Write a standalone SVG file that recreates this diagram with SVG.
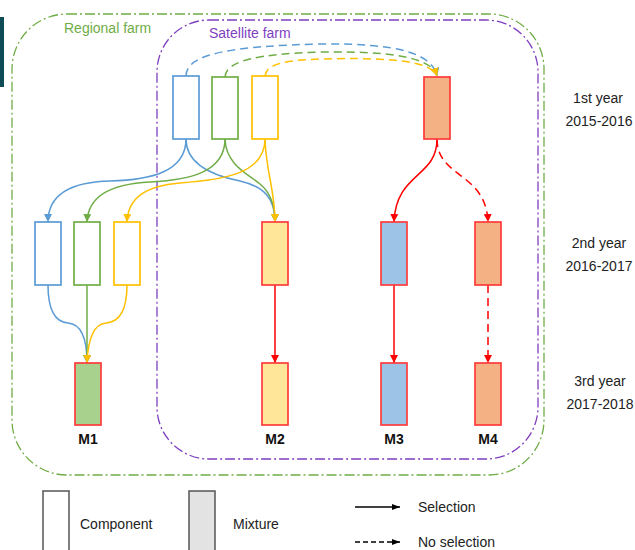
<svg xmlns="http://www.w3.org/2000/svg" width="635" height="550" viewBox="0 0 635 550">
<style>
text{font-family:"Liberation Sans",Arial,sans-serif;font-size:14px;fill:#222}
.lbl{font-weight:bold;text-anchor:middle;fill:#111}
.yr{text-anchor:middle}
.comp{fill:#fff;stroke-width:1.7}
.mix{stroke:#FF3B3B;stroke-width:1.7}
.c{fill:none;stroke-width:1.5}
.b{stroke:#5B9BD5}.g{stroke:#70AD47}.y{stroke:#FFC000}.r{stroke:#FF0000}.k{stroke:#000}
.d{stroke-dasharray:8,5}
.farm{fill:none;stroke-width:1.3;stroke-dasharray:10,3,2,3}
</style>
<defs>
<marker id="ab" markerWidth="8" markerHeight="8" refX="8" refY="4" orient="auto" markerUnits="userSpaceOnUse"><path d="M0,0 L8,4 L0,8 z" fill="#5B9BD5"/></marker>
<marker id="ag" markerWidth="8" markerHeight="8" refX="8" refY="4" orient="auto" markerUnits="userSpaceOnUse"><path d="M0,0 L8,4 L0,8 z" fill="#70AD47"/></marker>
<marker id="ay" markerWidth="8" markerHeight="8" refX="8" refY="4" orient="auto" markerUnits="userSpaceOnUse"><path d="M0,0 L8,4 L0,8 z" fill="#FFC000"/></marker>
<marker id="ar" markerWidth="8" markerHeight="8" refX="8" refY="4" orient="auto" markerUnits="userSpaceOnUse"><path d="M0,0 L8,4 L0,8 z" fill="#FF0000"/></marker>
<marker id="ak" markerWidth="8" markerHeight="8" refX="8" refY="4" orient="auto" markerUnits="userSpaceOnUse"><path d="M0,1 L8,4 L0,7 z" fill="#000"/></marker>
</defs>
<rect x="0" y="17" width="4" height="70" fill="#0E4B57"/>
<g id="regional-farm">
<rect class="farm" x="12" y="14" width="532" height="461" rx="55" ry="55" stroke="#70AD47"/>
<text x="64" y="33" style="fill:#70AD47">Regional farm</text>
</g>
<g id="satellite-farm">
<rect class="farm" x="157" y="20" width="381" height="439" rx="52" ry="52" stroke="#7F3FBF"/>
<text x="209" y="38" style="fill:#7F3FBF">Satellite farm</text>
</g>
<g id="connectors">
<path class="c b d" d="M186,76 C186,52 240,46 320,44 C400,43 432,54 437,76" marker-end="url(#ab)"/>
<path class="c g d" d="M225,77 C226,60 260,54 320,52 C395,51 432,58 437,76" marker-end="url(#ag)"/>
<path class="c y d" d="M265,76 C266,63 290,60 320,59 C395,57 432,62 437,76" marker-end="url(#ay)"/>
<path class="c b" d="M186,139 C186,172 150,180 110,181 C70,182 48,195 48,222" marker-end="url(#ab)"/>
<path class="c b" d="M186,139 C186,165 215,176 240,181 C266,187 275,200 275,222" marker-end="url(#ab)"/>
<path class="c g" d="M225,139 C225,172 190,180 150,182 C110,184 88,196 87,222" marker-end="url(#ag)"/>
<path class="c g" d="M225,139 C226,165 248,174 260,184 C271,193 275,205 275,222" marker-end="url(#ag)"/>
<path class="c y" d="M265,139 C265,175 220,180 180,183 C145,186 128,198 127,222" marker-end="url(#ay)"/>
<path class="c y" d="M265,139 C266,172 275,190 275,222" marker-end="url(#ay)"/>
<path class="c b" d="M48,285 C48,310 55,322 68,323 C82,324 87,340 87,363" marker-end="url(#ab)"/>
<path class="c g" d="M87,285 L87,363" marker-end="url(#ag)"/>
<path class="c y" d="M127,285 C127,310 120,322 106,323 C93,324 88,340 87,363" marker-end="url(#ay)"/>
<path class="c r" d="M275,285 L275,363" marker-end="url(#ar)"/>
<path class="c r" d="M437,139 C437,178 396,172 394,222" marker-end="url(#ar)"/>
<path class="c r d" d="M437,139 C437,178 486,172 488,222" marker-end="url(#ar)"/>
<path class="c r" d="M394,285 L394,363" marker-end="url(#ar)"/>
<path class="c r d" d="M488,285 L488,363" marker-end="url(#ar)"/>
</g>
<g id="year1-blue"><rect class="comp" x="173" y="76" width="26" height="63" stroke="#5B9BD5"/></g>
<g id="year1-green"><rect class="comp" x="212" y="77" width="26" height="62" stroke="#70AD47"/></g>
<g id="year1-yellow"><rect class="comp" x="252" y="76" width="26" height="63" stroke="#FFC000"/></g>
<g id="year1-mix"><rect class="mix" x="424" y="77" width="26" height="62" fill="#F4B183"/></g>
<g id="year2-blue"><rect class="comp" x="35" y="222" width="26" height="63" stroke="#5B9BD5"/></g>
<g id="year2-green"><rect class="comp" x="74" y="222" width="26" height="63" stroke="#70AD47"/></g>
<g id="year2-yellow"><rect class="comp" x="114" y="222" width="26" height="63" stroke="#FFC000"/></g>
<g id="year2-m2"><rect class="mix" x="262" y="222" width="26" height="63" fill="#FFE699"/></g>
<g id="year2-m3"><rect class="mix" x="381" y="222" width="26" height="63" fill="#9DC3E6"/></g>
<g id="year2-m4"><rect class="mix" x="475" y="222" width="26" height="63" fill="#F4B183"/></g>
<g id="M1"><rect class="mix" x="75" y="363" width="26" height="62" fill="#A9D18E"/><text class="lbl" x="88" y="444">M1</text></g>
<g id="M2"><rect class="mix" x="262" y="363" width="26" height="62" fill="#FFE699"/><text class="lbl" x="275" y="444">M2</text></g>
<g id="M3"><rect class="mix" x="381" y="363" width="26" height="62" fill="#9DC3E6"/><text class="lbl" x="394" y="444">M3</text></g>
<g id="M4"><rect class="mix" x="475" y="363" width="26" height="62" fill="#F4B183"/><text class="lbl" x="488" y="444">M4</text></g>
<g id="years">
<text class="yr" x="598" y="103">1st year</text>
<text class="yr" x="599" y="126">2015-2016</text>
<text class="yr" x="599" y="248">2nd year</text>
<text class="yr" x="599" y="271">2016-2017</text>
<text class="yr" x="600" y="386">3rd year</text>
<text class="yr" x="600" y="409">2017-2018</text>
</g>
<g id="legend">
<rect x="43" y="491" width="26" height="62" fill="#fff" stroke="#555" stroke-width="1.5"/>
<text x="80" y="529">Component</text>
<rect x="189" y="491" width="26" height="62" fill="#E3E3E3" stroke="#555" stroke-width="1.5"/>
<text x="233" y="529">Mixture</text>
<path class="c k" d="M355,507 L400,507" marker-end="url(#ak)"/>
<text x="418" y="512">Selection</text>
<path class="c k" d="M355,542 L400,542" marker-end="url(#ak)" style="stroke-dasharray:5,3"/>
<text x="418" y="547">No selection</text>
</g>
</svg>
